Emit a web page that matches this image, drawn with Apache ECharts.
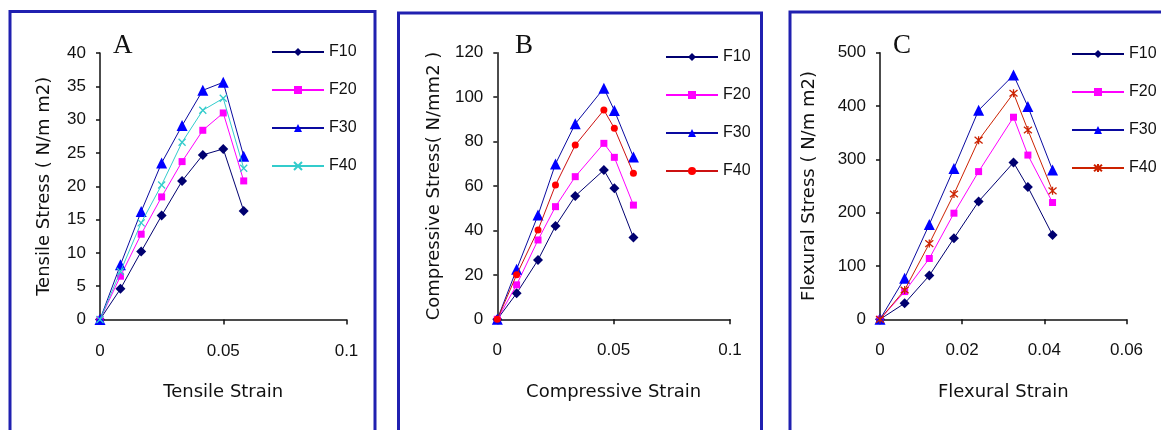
<!DOCTYPE html>
<html><head><meta charset="utf-8">
<script src="https://cdn.jsdelivr.net/npm/echarts@6/dist/echarts.min.js"></script>
<style>html,body{margin:0;padding:0;background:#fff}#c{width:1161px;height:430px}</style>
</head><body><div id="c"></div>
<script>
// ---------- DATA ----------
const seriesNames = ['F10', 'F20', 'F30', 'F40'];

// Panel A – tensile
const tensileStrain = [0, 0.0083, 0.0167, 0.025, 0.0333, 0.0417, 0.05, 0.0583];
const tensileF10 = [0, 4.6, 10.2, 15.6, 20.8, 24.7, 25.6, 16.3];
const tensileF20 = [0, 6.5, 12.8, 18.4, 23.7, 28.4, 31.0, 20.8];
const tensileF30 = [0, 8.2, 16.2, 23.5, 29.1, 34.4, 35.6, 24.5];
const tensileF40 = [0, 7.2, 14.5, 20.2, 26.6, 31.4, 33.2, 22.7];

// Panel B – compressive
const compStrain = [0, 0.0083, 0.0175, 0.025, 0.0335, 0.0458, 0.0503, 0.0585];
const compF10 = [0, 11.7, 26.7, 42.0, 55.5, 67.2, 59.0, 36.8];
const compF20 = [0, 15.5, 35.7, 50.7, 64.2, 79.2, 72.9, 51.4];
const compF30 = [0, 22.5, 46.9, 69.9, 88.0, 104.0, 94.0, 73.0];
const compF40 = [0, 20.0, 40.2, 60.4, 78.4, 94.2, 86.0, 65.7];

// Panel C – flexural
const flexStrain = [0, 0.006, 0.012, 0.018, 0.024, 0.0325, 0.036, 0.042];
const flexF10 = [0, 30, 82, 152, 221, 294, 248, 158];
const flexF20 = [0, 52, 114, 199, 277, 379, 308, 219];
const flexF30 = [0, 77, 178, 283, 392, 458, 399, 280];
const flexF40 = [0, 55, 142, 235, 336, 424, 355, 241];

const panelLetters = ['A', 'B', 'C'];
const xAxisNames = ['Tensile Strain', 'Compressive Strain', 'Flexural Strain'];
const yAxisNames = ['Tensile Stress ( N/m m2)', 'Compressive Stress( N/mm2 )', 'Flexural Stress ( N/m m2)'];

// ---------- STYLE / LAYOUT ----------
const X_SYM = 'path://M0,0L10,10M0,10L10,0';
const STAR_SYM = 'path://M0,0L10,10M0,10L10,0M5,-1L5,11';
const NAVY = '#000070', MAG = '#ff00ff', BLUE = '#0000ff', BLUE_LINE = '#0a0aa0';

const panels = [
  { strain: tensileStrain, ys: [tensileF10, tensileF20, tensileF30, tensileF40],
    grid: { left: 100, top: 53, width: 246.5, height: 266.5 },
    y: { max: 40, interval: 5 }, x: { max: 0.1, interval: 0.05 },
    nameGap: 47, letterLeft: 113,
    f40: { symbol: X_SYM, size: 7, line: '#33cccc', mark: '#33cccc' },
    legend: { left: 271, top: 44 } },
  { strain: compStrain, ys: [compF10, compF20, compF30, compF40],
    grid: { left: 497.3, top: 52.7, width: 232.7, height: 266.6 },
    y: { max: 120, interval: 20 }, x: { max: 0.1, interval: 0.05 },
    nameGap: 54, letterLeft: 515,
    f40: { symbol: 'circle', size: 7, line: '#cc1111', mark: '#ff0000' },
    legend: { left: 665, top: 49 } },
  { strain: flexStrain, ys: [flexF10, flexF20, flexF30, flexF40],
    grid: { left: 880, top: 52.7, width: 246.5, height: 266.6 },
    y: { max: 500, interval: 100 }, x: { max: 0.06, interval: 0.02 },
    nameGap: 62, letterLeft: 893,
    f40: { symbol: STAR_SYM, size: 8, line: '#cc2200', mark: '#cc2200' },
    legend: { left: 1071, top: 46 } }
];

const axisLineStyle = { color: '#111', width: 1.5 };
const tickFont = { fontFamily: 'Liberation Sans', fontSize: 17, color: '#111' };
const nameFont = { fontFamily: 'DejaVu Sans', fontSize: 18, color: '#111' };

const option = {
  backgroundColor: '#ffffff',
  animation: false,
  grid: [], xAxis: [], yAxis: [], series: [], legend: [], title: [],
  graphic: []
};

panels.forEach((p, i) => {
  option.grid.push(p.grid);
  option.xAxis.push({
    type: 'value', gridIndex: i, min: 0, max: p.x.max, interval: p.x.interval,
    name: xAxisNames[i], nameLocation: 'middle', nameGap: 64, nameTextStyle: nameFont,
    axisLine: { show: true, lineStyle: axisLineStyle },
    axisTick: { show: true, inside: false, length: 5, lineStyle: axisLineStyle },
    axisLabel: Object.assign({ margin: 23 }, tickFont),
    splitLine: { show: false }
  });
  option.yAxis.push({
    type: 'value', gridIndex: i, min: 0, max: p.y.max, interval: p.y.interval,
    name: yAxisNames[i], nameLocation: 'middle', nameGap: p.nameGap, nameTextStyle: nameFont,
    axisLine: { show: true, lineStyle: axisLineStyle },
    axisTick: { show: true, inside: false, length: 4, lineStyle: axisLineStyle },
    axisLabel: Object.assign({ margin: 14 }, tickFont),
    splitLine: { show: false }
  });
  const styles = [
    { symbol: 'diamond', size: 10, line: NAVY, mark: NAVY },
    { symbol: 'rect', size: 7, line: MAG, mark: MAG },
    { symbol: 'triangle', size: 11, line: BLUE_LINE, mark: BLUE },
    p.f40
  ];
  const legendData = [];
  seriesNames.forEach((nm, k) => {
    const st = styles[k];
    const id = panelLetters[i] + ':' + nm;
    legendData.push(id);
    const isPath = st.symbol.indexOf('path://') === 0;
    option.series.push({
      type: 'line', name: id, xAxisIndex: i, yAxisIndex: i,
      data: p.strain.map((x, j) => [x, p.ys[k][j]]),
      symbol: st.symbol, symbolSize: st.size, showAllSymbol: true,
      lineStyle: { color: st.line, width: 1 },
      itemStyle: isPath ? { color: st.mark, borderColor: st.mark, borderWidth: 1.3 }
                        : { color: st.mark, borderWidth: 0 },
      z: 3 + k
    });
  });
  option.legend.push({
    data: legendData, orient: 'vertical', left: p.legend.left, top: p.legend.top,
    itemWidth: 52, itemHeight: 10, itemGap: 22, padding: 0,
    textStyle: { fontFamily: 'Liberation Sans', fontSize: 16, color: '#111' },
    formatter: n => n.split(':')[1],
    selectedMode: false
  });
  option.title.push({
    text: panelLetters[i], left: p.letterLeft, top: 32, padding: 0,
    textStyle: { fontFamily: 'Liberation Serif', fontSize: 27, fontWeight: 'normal', color: '#111' }
  });
});

// panel frames
option.graphic = [
  { type: 'rect', shape: { x: 10, y: 11.5, width: 365, height: 440 }, style: { fill: 'none', stroke: '#2020b0', lineWidth: 3 }, z: -1 },
  { type: 'rect', shape: { x: 398.5, y: 13, width: 363, height: 440 }, style: { fill: 'none', stroke: '#2020b0', lineWidth: 3 }, z: -1 },
  { type: 'rect', shape: { x: 790, y: 12, width: 400, height: 440 }, style: { fill: 'none', stroke: '#2020b0', lineWidth: 3 }, z: -1 }
];

const chart = echarts.init(document.getElementById('c'), null, { renderer: 'canvas' });
chart.setOption(option);
</script>
</body></html>
